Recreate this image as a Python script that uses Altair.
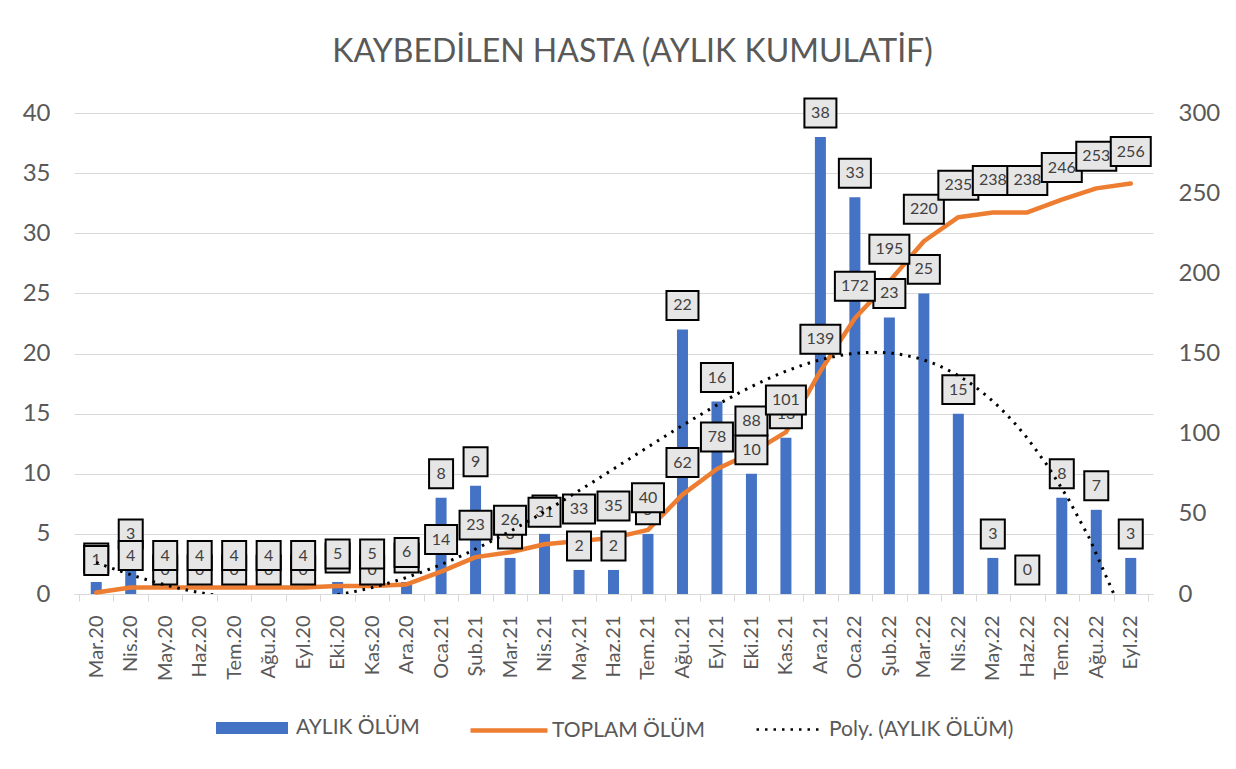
import json
import altair as alt
import pandas as pd

# ---- data ----
months = ["Mar.20", "Nis.20", "May.20", "Haz.20", "Tem.20", "Ağu.20", "Eyl.20", "Eki.20",
          "Kas.20", "Ara.20", "Oca.21", "Şub.21", "Mar.21", "Nis.21", "May.21", "Haz.21",
          "Tem.21", "Ağu.21", "Eyl.21", "Eki.21", "Kas.21", "Ara.21", "Oca.22", "Şub.22",
          "Mar.22", "Nis.22", "May.22", "Haz.22", "Tem.22", "Ağu.22", "Eyl.22"]
monthly = [1, 3, 0, 0, 0, 0, 0, 1, 0, 1, 8, 9, 3, 5, 2, 2, 5, 22, 16, 10, 13, 38, 33, 23,
           25, 15, 3, 0, 8, 7, 3]
cumulative = [1, 4, 4, 4, 4, 4, 4, 5, 5, 6, 14, 23, 26, 31, 33, 35, 40, 62, 78, 88, 101,
              139, 172, 195, 220, 235, 238, 238, 246, 253, 256]
left_ticks = [0, 5, 10, 15, 20, 25, 30, 35, 40]
right_ticks = [0, 50, 100, 150, 200, 250, 300]

NAME_M = "AYLIK ÖLÜM"
NAME_C = "TOPLAM ÖLÜM"
NAME_P = "Poly. (AYLIK ÖLÜM)"
TITLE = "KAYBEDİLEN HASTA (AYLIK KUMULATİF)"

df = pd.DataFrame({"i": list(range(len(months))), "ay": months, "m": monthly, "c": cumulative})

FONT = "Lato"
GREY = "#595959"
BLUE = "#4472C4"
ORANGE = "#ED7D31"

n = len(months)
x_scale = alt.Scale(domain=[-0.5, n - 0.5], nice=False, zero=False)
x_axis = alt.Axis(
    values=[k / 2 - 0.5 for k in range(2 * n + 1)],
    labelExpr="datum.value % 1 === 0 ? " + json.dumps(months, ensure_ascii=False) + "[datum.value] : ''",
    labelAngle=270, labelFont=FONT, labelFontSize=20, labelColor=GREY,
    labelPadding=14, labelOverlap=False, labelFlush=False, labelBound=False,
    tickSize=7, tickColor="#D9D9D9", tickWidth=1,
    tickOpacity={"condition": {"test": "datum.value % 1 === 0", "value": 0}, "value": 1},
    domainColor="#D9D9D9", domainWidth=1, grid=False, title=None,
)
X = alt.X("i:Q", scale=x_scale, axis=x_axis)

left_scale = alt.Scale(domain=[0, 40], nice=False, zero=True)
right_scale = alt.Scale(domain=[0, 300], nice=False, zero=True)

left_axis = alt.Axis(values=left_ticks, grid=True, gridColor="#D9D9D9", gridWidth=1,
                     domain=False, ticks=False, labelFont=FONT, labelFontSize=24,
                     labelColor=GREY, labelPadding=24, title=None)
right_axis = alt.Axis(orient="right", values=right_ticks, grid=False, domain=False,
                      ticks=False, labelFont=FONT, labelFontSize=24, labelColor=GREY,
                      labelPadding=25, title=None)

box_paths = ["M-0.75,-0.906H0.75V0.906H-0.75Z",
             "M-1.0,-0.906H1.0V0.906H-1.0Z",
             "M-1.25,-0.906H1.25V0.906H-1.25Z"]
box_shape = alt.Shape("nd:N", scale=alt.Scale(domain=["1", "2", "3"], range=box_paths), legend=None)

legend_common = dict(orient="none", title=None, labelFont=FONT, labelFontSize=21,
                     labelColor=GREY, labelLimit=400)
LEG_CY = 615  # legend row centre, relative to plot top

base = alt.Chart(df)

bars = base.transform_calculate(s1=json.dumps(NAME_M)).mark_bar(size=11).encode(
    x=X,
    y=alt.Y("m:Q", scale=left_scale, axis=left_axis),
    fill=alt.Fill("s1:N", scale=alt.Scale(domain=[NAME_M], range=[BLUE]),
                  legend=alt.Legend(legendX=142, legendY=LEG_CY - 36, labelOffset=8,
                                    symbolType="M-1,-0.1667H1V0.1667H-1Z",
                                    symbolSize=5184, symbolStrokeWidth=0, **legend_common)),
)

line = base.transform_calculate(s2=json.dumps(NAME_C)).mark_line(
    strokeWidth=4.5, strokeJoin="round", strokeCap="round").encode(
    x=X,
    y=alt.Y("c:Q", scale=right_scale, axis=right_axis),
    stroke=alt.Stroke("s2:N", scale=alt.Scale(domain=[NAME_C], range=[ORANGE]),
                      legend=alt.Legend(legendX=394, legendY=LEG_CY - 38.5, labelOffset=2,
                                        symbolType="stroke",
                                        symbolSize=5929, symbolStrokeWidth=4.5,
                                        **legend_common)),
)

m_boxes = base.transform_calculate(nd="toString(length(toString(datum.m)))").mark_point(
    filled=True, size=1024, fill="#E7E6E6", stroke="#000000", strokeWidth=2,
    opacity=1, fillOpacity=1, strokeOpacity=1, yOffset=-24).encode(
    x=X, y=alt.Y("m:Q", scale=left_scale, axis=None), shape=box_shape)

m_text = base.mark_text(font=FONT, fontSize=16, color="#404040", dy=-24,
                        align="center", baseline="middle").encode(
    x=X, y=alt.Y("m:Q", scale=left_scale, axis=None), text=alt.Text("m:Q"))

c_boxes = base.transform_calculate(nd="toString(length(toString(datum.c)))").mark_point(
    filled=True, size=1024, fill="#E7E6E6", stroke="#000000", strokeWidth=2,
    opacity=1, fillOpacity=1, strokeOpacity=1, yOffset=-32).encode(
    x=X, y=alt.Y("c:Q", scale=right_scale, axis=None), shape=box_shape)

c_text = base.mark_text(font=FONT, fontSize=16, color="#404040", dy=-32,
                        align="center", baseline="middle").encode(
    x=X, y=alt.Y("c:Q", scale=right_scale, axis=None), text=alt.Text("c:Q"))

trend = base.transform_regression("i", "m", method="poly", order=4, extent=[0, n - 1]).transform_calculate(
    s3=json.dumps(NAME_P)).mark_line(color="black", strokeWidth=3, clip=True).encode(
    x=X,
    y=alt.Y("m:Q", scale=left_scale, axis=None),
    strokeDash=alt.StrokeDash("s3:N", scale=alt.Scale(domain=[NAME_P], range=[[2.5, 6]]),
                              legend=alt.Legend(legendX=681, legendY=LEG_CY - 33.5, labelOffset=4,
                                                symbolType="stroke",
                                                symbolSize=4489, symbolStrokeWidth=2.5,
                                                symbolStrokeColor="black", **legend_common)),
)

chart = alt.layer(bars, line, m_boxes, m_text, c_boxes, c_text, trend).resolve_scale(
    y="independent"
).properties(
    width=1079, height=481,
    autosize=alt.AutoSizeParams(type="none"),
    padding={"left": 66, "top": 105, "right": 73, "bottom": 160},
    title=alt.Title(TITLE, font=FONT, fontSize=32, fontWeight="normal", color=GREY,
                    anchor="middle", frame="group", dx=19, offset=26),
).configure_view(strokeWidth=0)

chart.save("out.html", embed_options={"renderer": "svg", "actions": False})
